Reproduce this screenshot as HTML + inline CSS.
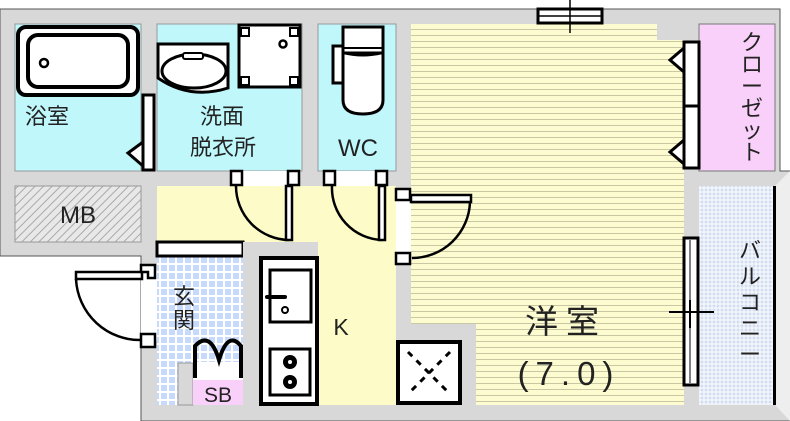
<!DOCTYPE html>
<html><head><meta charset="utf-8"><style>
html,body{margin:0;padding:0;background:#fff;width:790px;height:421px;overflow:hidden}
text{font-family:"Liberation Sans","Noto Sans CJK JP",sans-serif;fill:#222}
</style></head><body>
<svg width="790" height="421" viewBox="0 0 790 421" xmlns="http://www.w3.org/2000/svg">
<defs>
<pattern id="lines" width="8" height="6" patternUnits="userSpaceOnUse"><rect width="8" height="6" fill="#fdfcd0"/><line x1="0" y1="5.5" x2="8" y2="5.5" stroke="#c9c7a4" stroke-width="1"/></pattern>
<pattern id="tile" width="8" height="8" patternUnits="userSpaceOnUse"><rect width="8" height="8" fill="#fff"/><rect x="1" y="1" width="6" height="6" fill="#c8dafc"/></pattern>
<pattern id="btile" width="4" height="4" patternUnits="userSpaceOnUse"><rect width="4" height="4" fill="#fff"/><rect x="0.5" y="0.5" width="3" height="3" fill="#d2ddf0"/></pattern>
<pattern id="hatch" width="6" height="6" patternUnits="userSpaceOnUse" patternTransform="rotate(45)"><rect width="6" height="6" fill="#e8e8e8"/><line x1="0" y1="0" x2="0" y2="6" stroke="#aaa" stroke-width="2"/></pattern>
</defs>
<path d="M0 9 H780 V171 H790 V421 H141 V256 H0 Z" fill="#d8d8d8" stroke="#555" stroke-width="1"/>
<polygon points="775,186 790,171 790,421 775,405" fill="#eee"/>
<!-- bath -->
<rect x="15" y="24" width="126" height="147" fill="#bff7fb" stroke="#999"/>
<rect x="18" y="27" width="120" height="68" rx="8" fill="#fff" stroke="#000" stroke-width="4"/>
<rect x="28" y="35" width="100" height="52" rx="10" fill="#fff" stroke="#000" stroke-width="4"/>
<circle cx="44" cy="63" r="4" fill="#fff" stroke="#000" stroke-width="2.5"/>
<rect x="143" y="95" width="11" height="75" fill="#fff" stroke="#000" stroke-width="3"/>
<polygon points="143,142 128,153 143,166" fill="#fff" stroke="#000" stroke-width="3"/>
<text x="25" y="124" font-size="22">浴室</text>
<!-- wash -->
<rect x="157" y="24" width="145" height="147" fill="#bff7fb" stroke="#999"/>
<path d="M158 44 H228 V88 Q190 100 158 78 Z" fill="#fff" stroke="#000" stroke-width="3"/>
<ellipse cx="194" cy="71" rx="32" ry="17" fill="#fff" stroke="#000" stroke-width="3"/>
<rect x="183" y="53" width="20" height="6" rx="2" fill="#fff" stroke="#000" stroke-width="2"/>
<rect x="239" y="25" width="61" height="62" fill="#fff" stroke="#000" stroke-width="3"/>
<rect x="241" y="28" width="8" height="8" fill="#fff" stroke="#000" stroke-width="2"/>
<rect x="290" y="28" width="8" height="8" fill="#fff" stroke="#000" stroke-width="2"/>
<rect x="241" y="77" width="8" height="8" fill="#fff" stroke="#000" stroke-width="2"/>
<rect x="290" y="77" width="8" height="8" fill="#fff" stroke="#000" stroke-width="2"/>
<circle cx="283" cy="44" r="3.5" fill="#fff" stroke="#000" stroke-width="2.5"/>
<text x="222" y="124" font-size="22" text-anchor="middle">洗面</text>
<text x="223" y="155" font-size="22" text-anchor="middle">脱衣所</text>
<!-- WC -->
<rect x="318" y="24" width="78" height="147" fill="#bff7fb" stroke="#999"/>
<rect x="333" y="46" width="14" height="37" fill="#fff" stroke="#000" stroke-width="3"/>
<rect x="343" y="27" width="40" height="26" fill="#fff" stroke="#000" stroke-width="3"/>
<path d="M343 53 H383 V100 Q383 114 363 114 Q343 114 343 100 Z" fill="#fff" stroke="#000" stroke-width="3"/>
<path d="M343 48 H383 M343 53 Q363 58 383 53" fill="none" stroke="#000" stroke-width="2"/>
<text x="358" y="156" font-size="24" text-anchor="middle">WC</text>
<!-- MB -->
<rect x="15" y="186" width="126" height="56" fill="url(#hatch)" stroke="#999"/>
<text x="78" y="223" font-size="24" text-anchor="middle">MB</text>
<!-- hall -->
<rect x="157" y="186" width="239" height="56" fill="#fdfcc8"/>
<rect x="259" y="242" width="137" height="163" fill="#fdfcc8"/>
<rect x="232" y="171" width="66" height="15" fill="#fff"/>
<rect x="325" y="171" width="60" height="15" fill="#fff"/>
<!-- western -->
<path d="M411 24 H657 V40 H684 V405 H476 V324 H411 Z" fill="url(#lines)"/>
<rect x="396" y="190" width="15" height="70" fill="#fff"/>
<!-- closet -->
<rect x="699" y="24" width="76" height="147" fill="#f9d0f9" stroke="#777"/>
<rect x="684" y="42" width="15" height="64" fill="#fff" stroke="#000" stroke-width="3"/>
<rect x="684" y="106" width="15" height="62" fill="#fff" stroke="#000" stroke-width="3"/>
<polygon points="684,48 670,60 684,72" fill="#fff" stroke="#000" stroke-width="3"/>
<polygon points="684,140 670,152 684,164" fill="#fff" stroke="#000" stroke-width="3"/>
<text font-size="22" text-anchor="middle" transform="translate(752,30)"><tspan x="0" dy="20">ク</tspan><tspan x="0" dy="22">ロ</tspan><tspan x="0" dy="22">ー</tspan><tspan x="0" dy="22">ゼ</tspan><tspan x="0" dy="22">ッ</tspan><tspan x="0" dy="22">ト</tspan></text>
<!-- balcony -->
<rect x="699" y="186" width="75" height="219" fill="url(#btile)"/>
<rect x="773" y="186" width="3" height="219" fill="#000"/>
<rect x="684" y="238" width="14" height="147" fill="#fff" stroke="#000" stroke-width="3"/>
<line x1="690" y1="240" x2="690" y2="383" stroke="#000" stroke-width="1"/>
<line x1="669" y1="312" x2="714" y2="312" stroke="#000" stroke-width="2"/>
<line x1="690" y1="300" x2="690" y2="328" stroke="#000" stroke-width="2"/>
<text font-size="22" text-anchor="middle" transform="translate(750,238)"><tspan x="0" dy="20">バ</tspan><tspan x="0" dy="26">ル</tspan><tspan x="0" dy="26">コ</tspan><tspan x="0" dy="26">ニ</tspan><tspan x="0" dy="26">ー</tspan></text>
<text x="566" y="333" font-size="33" text-anchor="middle" letter-spacing="8">洋室</text>
<text x="569" y="385" font-size="33" text-anchor="middle" letter-spacing="7">(7.0)</text>
<!-- top window -->
<rect x="538" y="9" width="64" height="14" fill="#fff" stroke="#000" stroke-width="3"/>
<line x1="538" y1="16" x2="602" y2="16" stroke="#000" stroke-width="1.5"/>
<line x1="570" y1="0" x2="570" y2="33" stroke="#000" stroke-width="1.5"/>
<!-- entrance -->
<rect x="157" y="256" width="86" height="149" fill="url(#tile)"/>
<rect x="157" y="242" width="86" height="14" fill="#fff" stroke="#000" stroke-width="3"/>
<rect x="141" y="270" width="16" height="70" fill="#fff"/>
<rect x="178" y="363" width="15" height="42" fill="#d8d8d8" stroke="#999"/>
<rect x="193" y="380" width="50" height="25" fill="#f9d0f9"/>
<rect x="193" y="362" width="50" height="18" fill="#fff"/>
<path d="M195 378 V346 Q210 330 219 360 Q228 330 241 346 V378" fill="none" stroke="#000" stroke-width="4"/>
<text x="218" y="402" font-size="21" text-anchor="middle">SB</text>
<text x="184" y="304" font-size="22" text-anchor="middle">玄</text>
<text x="184" y="328" font-size="22" text-anchor="middle">関</text>
<!-- entrance door -->
<rect x="76" y="272" width="66" height="7" fill="#fff" stroke="#000" stroke-width="2.5"/>
<path d="M76 279 A64 64 0 0 0 142 340" fill="none" stroke="#000" stroke-width="2.5"/>
<path d="M141 265 H155 V278 H148 V272 H141 Z M141 334 H155 V347 H141 Z" fill="#fff" stroke="#000" stroke-width="2.5"/>
<!-- kitchen -->
<rect x="243" y="242" width="16" height="163" fill="#d8d8d8"/>
<rect x="243" y="242" width="75" height="14" fill="#d8d8d8"/>
<rect x="261" y="258" width="56" height="146" fill="#fff" stroke="#000" stroke-width="4"/>
<rect x="270" y="270" width="41" height="52" fill="#fff" stroke="#000" stroke-width="3"/>
<line x1="267" y1="297" x2="285" y2="297" stroke="#000" stroke-width="4" stroke-linecap="round"/>
<circle cx="285" cy="310" r="3" fill="#fff" stroke="#000" stroke-width="2"/>
<rect x="270" y="349" width="40" height="46" fill="#fff" stroke="#000" stroke-width="3"/>
<circle cx="290" cy="362" r="7" fill="#000"/><circle cx="290" cy="362" r="2" fill="#fff"/>
<circle cx="290" cy="382" r="7" fill="#000"/><circle cx="290" cy="382" r="2" fill="#fff"/>
<text x="341" y="335" font-size="23" text-anchor="middle">K</text>
<!-- fridge box -->
<rect x="398" y="342" width="62" height="61" fill="#fff" stroke="#000" stroke-width="4"/>
<path d="M408 352 L450 394 M450 352 L408 394" stroke="#000" stroke-width="3" stroke-dasharray="6 6"/>
<!-- doors -->
<g fill="none" stroke="#000" stroke-width="2.5">
<path d="M236 186 A54 54 0 0 0 289 240"/>
<path d="M332 186 A52 52 0 0 0 382 240"/>
<path d="M470 202 A58 58 0 0 1 412 258"/>
</g>
<g fill="#fff" stroke="#000" stroke-width="2.5">
<rect x="286" y="186" width="6" height="54"/>
<rect x="379" y="186" width="6" height="54"/>
<rect x="411" y="195" width="60" height="7"/>
<rect x="231" y="171" width="11" height="14"/><rect x="288" y="171" width="11" height="14"/>
<rect x="324" y="171" width="11" height="14"/><rect x="376" y="171" width="11" height="14"/>
<rect x="396" y="189" width="14" height="11"/><rect x="396" y="253" width="14" height="11"/>
</g>
</svg>
</body></html>
